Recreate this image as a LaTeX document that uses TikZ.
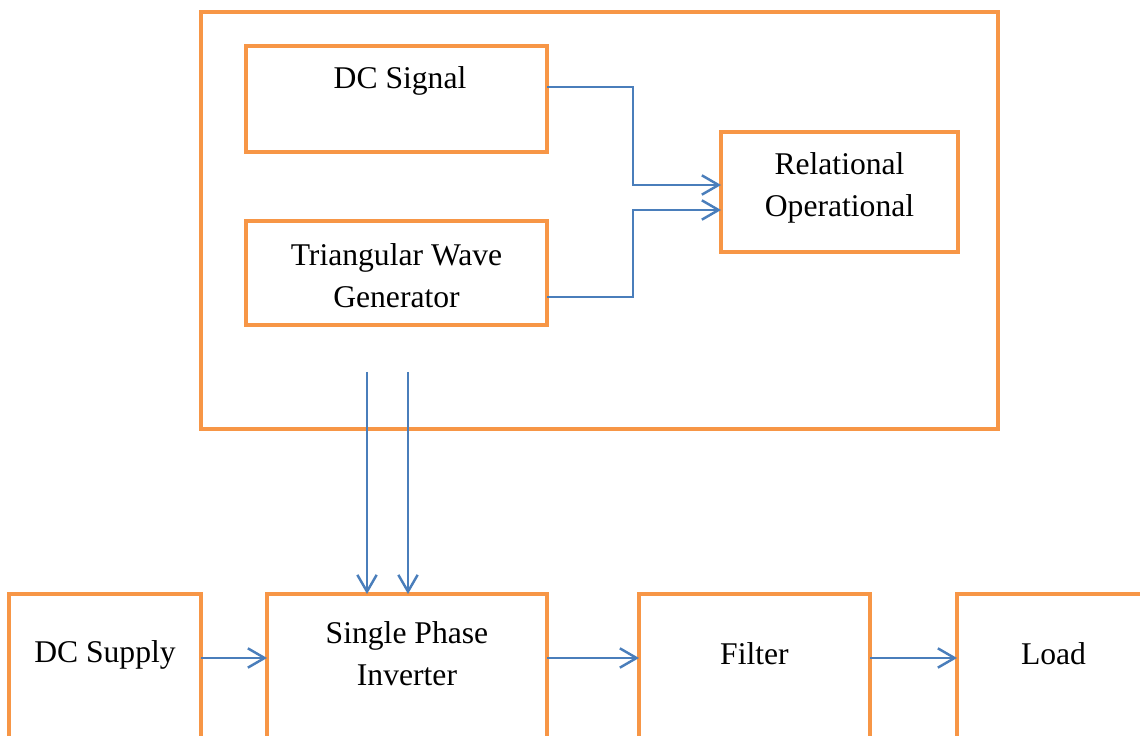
\documentclass[tikz,border=0pt]{standalone}
\usepackage{fontspec}
\setmainfont{Liberation Serif}
\usetikzlibrary{arrows.meta,positioning}
\definecolor{boxorange}{HTML}{F79646}
\definecolor{wireblue}{HTML}{4A7EBB}
\tikzset{
    blk/.style={draw=boxorange, line width=0.09cm, rectangle, inner sep=0pt, outer sep=0pt,
        align=center, font=\fontsize{18}{24}\selectfont},
    txt/.style={align=center, font=\fontsize{18}{24}\selectfont, inner sep=0pt},
    wire/.style={draw=wireblue, line width=1.4pt, -{Straight Barb[length=9.5pt,width=11pt]}}
}
\begin{document}
\begin{tikzpicture}[x=0.02cm, y=-0.02cm]
    \useasboundingbox (0,0) rectangle (1140,736);
    \clip (0,0) rectangle (1140,736);
    % control part
    \node[blk, minimum width=797*0.02cm, minimum height=417*0.02cm] (ctrl) at (599.5,220.5) {};
    \node[blk, minimum width=301*0.02cm, minimum height=106*0.02cm] (sig) at (396.5,99) {};
    \node[txt] (sigtxt) at (400,81) {DC Signal};
    \node[blk, minimum width=301*0.02cm, minimum height=104*0.02cm] (tri) at (396.5,273) {};
    \node[txt] (tritxt) at (396.5,276) {Triangular Wave\\Generator};
    \node[blk, minimum width=237*0.02cm, minimum height=120*0.02cm] (rel) at (839.5,192) {};
    \node[txt] (reltxt) at (839.5,188) {Relational\\Operational};
    % power part
    \node[blk, minimum width=192*0.02cm, minimum height=186*0.02cm] (sup) at (105,687) {};
    \node[blk, minimum width=280*0.02cm, minimum height=186*0.02cm] (inv) at (407,687) {};
    \node[blk, minimum width=231*0.02cm, minimum height=186*0.02cm] (fil) at (754.5,687) {};
    \node[blk, minimum width=193*0.02cm, minimum height=186*0.02cm] (load) at (1053.5,687) {};
    \node[txt] (suptxt) at (105,655) {DC Supply};
    \node[txt] (invtxt) at (407,654) {Single Phase\\Inverter};
    \node[txt] (filtxt) at (754.5,654) {Filter};
    \node[txt] (loadtxt) at (1053.5,654) {Load};

    % wiring
    \coordinate (bus) at (633,0);
    \coordinate (sigout) at (0,87);
    \coordinate (triout) at (0,297);
    \coordinate (relin1) at (0,185);
    \coordinate (relin2) at (0,210);
    \coordinate (row) at (0,658);
    \coordinate (g1) at (367,372);
    \coordinate (g2) at (408,372);
    \draw[wire] (sig.east |- sigout) -| (bus |- relin1) -- (rel.west |- relin1);
    \draw[wire] (tri.east |- triout) -| (bus |- relin2) -- (rel.west |- relin2);
    \draw[wire] (g1) -- (inv.north -| g1);
    \draw[wire] (g2) -- (inv.north -| g2);
    \draw[wire] (sup.east |- row) -- (inv.west |- row);
    \draw[wire] (inv.east |- row) -- (fil.west |- row);
    \draw[wire] (fil.east |- row) -- (load.west |- row);
\end{tikzpicture}
\end{document}
